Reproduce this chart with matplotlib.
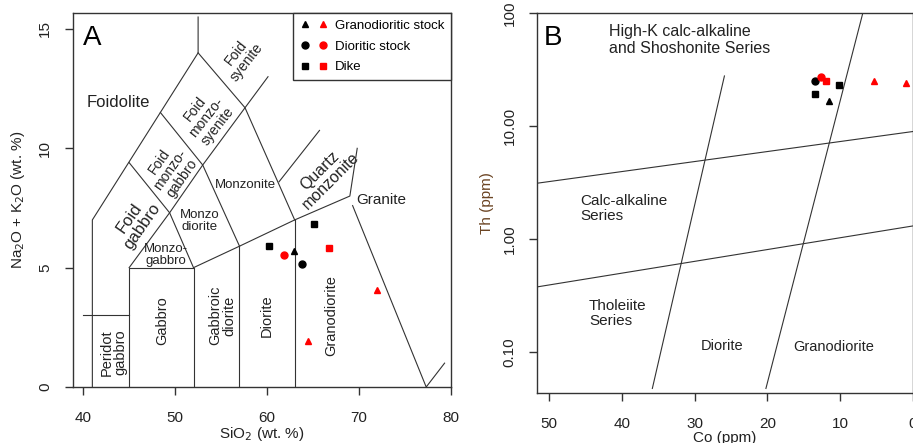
import matplotlib
matplotlib.use('Agg')
import matplotlib.pyplot as plt
from matplotlib.legend_handler import HandlerTuple

plt.rcParams['font.family'] = ['Liberation Sans', 'DejaVu Sans']

# ---- A: TAS (SiO2 vs Na2O+K2O) ----
tas_lines = [
    [(41, 0), (41, 7), (52.5, 14), (52.5, 15.5)],
    [(40, 3), (45, 3)],
    [(45, 0), (45, 5), (52, 5), (52, 0)],
    [(57, 0), (57, 5.9)],
    [(63, 0), (63, 7)],
    [(52, 5), (57, 5.9), (63, 7), (69, 8), (69.8, 10)],
    [(45, 5), (49.4, 7.3), (53, 9.3), (57.6, 11.7), (60.1, 13.0)],
    [(45, 9.4), (49.4, 7.3), (52, 5)],
    [(48.4, 11.5), (53, 9.3), (57, 5.9)],
    [(52.5, 14), (57.6, 11.7), (63, 7)],
    [(61.3, 8.6), (65.7, 10.75)],
    [(69.3, 7.6), (77.3, 0), (79.3, 1.0)],
]

# granodioritic stock, dioritic stock, dike (black / red)
sio2_gs_k = [62.9]
alk_gs_k = [5.68]
sio2_gs_r = [71.9, 64.4]
alk_gs_r = [4.05, 1.93]
sio2_ds_k = [63.8]
alk_ds_k = [5.15]
sio2_ds_r = [61.8]
alk_ds_r = [5.53]
sio2_dk_k = [60.25, 65.1]
alk_dk_k = [5.92, 6.83]
sio2_dk_r = [66.7]
alk_dk_r = [5.84]

# field names: text, x, y, rotation, size
tas_fields = [
    ('Foidolite', 43.8, 11.9, 0, 12),
    ('Foid\nsyenite', 57.2, 13.8, 52, 10),
    ('Foid\nmonzo-\nsyenite', 53.4, 11.3, 52, 10),
    ('Foid\nmonzo-\ngabbro', 49.5, 9.1, 55, 10),
    ('Foid\ngabbro', 45.7, 6.9, 55, 12),
    ('Monzo-\ngabbro', 49.0, 5.55, 0, 9.5),
    ('Monzo\ndiorite', 52.7, 6.95, 0, 9.5),
    ('Monzonite', 57.6, 8.45, 0, 9.5),
    ('Quartz\nmonzonite', 66.3, 8.85, 45, 11.5),
    ('Granite', 72.4, 7.85, 0, 11),
    ('Peridot\ngabbro', 43.3, 1.45, 90, 10.5),
    ('Gabbro', 48.55, 2.8, 90, 10.5),
    ('Gabbroic\ndiorite', 55.1, 3.0, 90, 10.5),
    ('Diorite', 60.0, 3.0, 90, 10.5),
    ('Granodiorite', 67.0, 3.0, 90, 10.5),
]

# ---- B: Co vs Th ----
cth_lines = [
    [(51.6, 3.14), (0, 9.0)],
    [(51.6, 0.38), (0, 1.315)],
    [(25.9, 27.9), (35.8, 0.048)],
    [(6.9, 100), (20.2, 0.048)],
]

co_gs_k = [11.6]
th_gs_k = [16.9]
co_gs_r = [5.4, 0.9]
th_gs_r = [25.4, 24.0]
co_ds_k = [13.4]
th_ds_k = [25.2]
co_ds_r = [12.7]
th_ds_r = [27.2]
co_dk_k = [10.2, 13.4]
th_dk_k = [23.2, 19.3]
co_dk_r = [12.0]
th_dk_r = [25.2]

cth_fields = [
    ('High-K calc-alkaline\nand Shoshonite Series', 41.8, 58, 11.5),
    ('Calc-alkaline\nSeries', 45.7, 1.89, 11),
    ('Tholeiite\nSeries', 44.5, 0.222, 11),
]

fig = plt.figure(figsize=(9.13, 4.43), dpi=100)
ax1 = fig.add_axes([0.080, 0.1264, 0.414, 0.8443])
ax2 = fig.add_axes([0.5885, 0.1135, 0.4115, 0.8565])

lc = '#333333'
for seg in tas_lines:
    xs, ys = zip(*seg)
    ax1.plot(xs, ys, color=lc, lw=0.8)

for txt, x, y, rot, fs in tas_fields:
    ax1.text(x, y, txt, rotation=rot, fontsize=fs, ha='center', va='center',
             color='#222222', linespacing=1.0, rotation_mode='anchor')

ms = 5
ax1.plot(sio2_gs_k, alk_gs_k, '^', color='black', ms=ms)
ax1.plot(sio2_gs_r, alk_gs_r, '^', color='red', ms=ms)
ax1.plot(sio2_ds_k, alk_ds_k, 'o', color='black', ms=ms)
ax1.plot(sio2_ds_r, alk_ds_r, 'o', color='red', ms=ms)
ax1.plot(sio2_dk_k, alk_dk_k, 's', color='black', ms=ms)
ax1.plot(sio2_dk_r, alk_dk_r, 's', color='red', ms=ms)

ax1.set_xlim(38.9, 80)
ax1.set_ylim(0, 15.67)
ax1.set_xticks([40, 50, 60, 70, 80])
ax1.set_yticks([0, 5, 10, 15])
ax1.set_yticklabels(['0', '5', '10', '15'], rotation=90, va='center')
ax1.set_xlabel('SiO$_2$ (wt. %)', fontsize=11, color='#222222', labelpad=0)
ax1.set_ylabel('Na$_2$O + K$_2$O (wt. %)', fontsize=11, color='#222222', labelpad=8)
ax1.text(0.05, 0.933, 'A', transform=ax1.transAxes, fontsize=20, ha='center', va='center')

# legend with paired black/red markers
h = {}
for m in ['^', 'o', 's']:
    hk, = ax1.plot([], [], m, color='black', ms=5)
    hr, = ax1.plot([], [], m, color='red', ms=5)
    h[m] = (hk, hr)
leg = ax1.legend([h['^'], h['o'], h['s']],
                 ['Granodioritic stock', 'Dioritic stock', 'Dike'],
                 handler_map={tuple: HandlerTuple(ndivide=None, pad=0.6)},
                 loc='upper right', bbox_to_anchor=(1.0, 1.0), fontsize=9.5,
                 frameon=True, fancybox=False, framealpha=1, borderpad=0.5,
                 handlelength=2.2, labelspacing=0.65, handletextpad=0.5,
                 borderaxespad=0)
leg.get_frame().set_edgecolor('#333333')
leg.get_frame().set_linewidth(1.0)

# ---- B ----
for seg in cth_lines:
    xs, ys = zip(*seg)
    ax2.plot(xs, ys, color=lc, lw=0.8)

for txt, x, y, fs in cth_fields:
    ax2.text(x, y, txt, fontsize=fs, ha='left', va='center', color='#222222',
             linespacing=1.1)
ax2.text(26.2, 0.115, 'Diorite', fontsize=10.5, ha='center', va='center', color='#222222')
ax2.text(10.9, 0.111, 'Granodiorite', fontsize=10.5, ha='center', va='center', color='#222222')

ax2.plot(co_gs_k, th_gs_k, '^', color='black', ms=ms)
ax2.plot(co_gs_r, th_gs_r, '^', color='red', ms=ms)
ax2.plot(co_ds_k, th_ds_k, 'o', color='black', ms=ms)
ax2.plot(co_ds_r, th_ds_r, 'o', color='red', ms=ms)
ax2.plot(co_dk_k, th_dk_k, 's', color='black', ms=ms)
ax2.plot(co_dk_r, th_dk_r, 's', color='red', ms=ms)

ax2.set_yscale('log')
ax2.set_xlim(51.6, 0)
ax2.set_ylim(0.044, 100)
ax2.set_xticks([50, 40, 30, 20, 10, 0])
ax2.set_yticks([0.1, 1, 10, 100])
ax2.set_yticklabels(['0.10', '1.00', '10.00', '100'], rotation=90, va='center')
ax2.minorticks_off()
ax2.set_xlabel('Co (ppm)', fontsize=11, color='#222222', labelpad=0)
ax2.set_ylabel('Th (ppm)', fontsize=11, color='#6b4423', labelpad=6)
ax2.text(0.043, 0.934, 'B', transform=ax2.transAxes, fontsize=20, ha='center', va='center')

for ax in (ax1, ax2):
    for sp in ax.spines.values():
        sp.set_color('#333333')
        sp.set_linewidth(1.0)
    ax.tick_params(direction='out', length=6, width=1, color='#333333',
                   labelsize=11, labelcolor='#222222')
    ax.tick_params(axis='x', pad=11.5)
    ax.tick_params(axis='y', pad=9)

fig.savefig('out.png', dpi=100)
